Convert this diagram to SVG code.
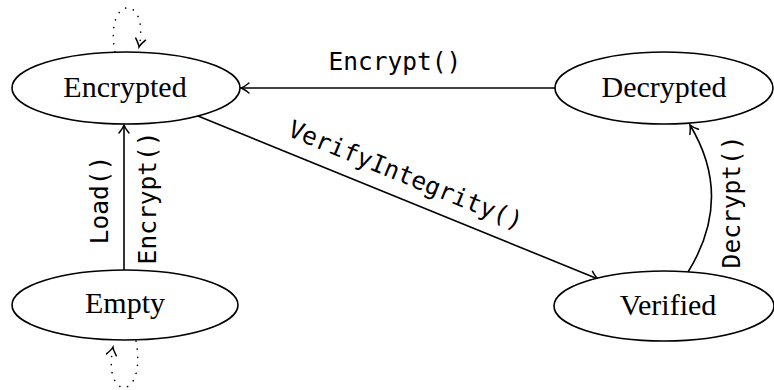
<svg xmlns="http://www.w3.org/2000/svg" width="774" height="390" viewBox="0 0 774 390">
<style>
.node ellipse{fill:#fff;stroke:#000;stroke-width:1.6}
.node text{font-family:"Liberation Serif","Times New Roman",serif;font-size:30px;text-anchor:middle;fill:#000}
.edge{fill:none;stroke:#000;stroke-width:1.6}
.loop{fill:none;stroke:#000;stroke-width:1.6;stroke-dasharray:0.1 8;stroke-linecap:round}
.lbl{font-family:"DejaVu Sans Mono","Liberation Mono",monospace;font-size:24.5px;text-anchor:middle;fill:#000}
</style>
<defs>
<marker id="arr" markerUnits="userSpaceOnUse" markerWidth="20" markerHeight="20" viewBox="-10 -10 20 20" refX="0" refY="0" orient="auto">
<path d="M-8,-5 Q-3,-1 0,0 Q-3,1 -8,5" fill="none" stroke="#000" stroke-width="1.5" stroke-linecap="round"/>
</marker>
</defs>
<g id="connectors">
<path class="loop" d="M115,52 C104,-6 150,-6 139,47" marker-end="url(#arr)"/>
<path class="loop" d="M136,341 C147,402 102,402 113,347" marker-end="url(#arr)"/>
<path class="edge" d="M555,88 L241,88" marker-end="url(#arr)"/>
<text class="lbl" x="395" y="70">Encrypt()</text>
<path class="edge" d="M124,270 L124,125" marker-end="url(#arr)"/>
<text class="lbl" transform="translate(108,200) rotate(-90)">Load()</text>
<text class="lbl" transform="translate(156,198) rotate(-90)">Encrypt()</text>
<path class="edge" d="M198,116 L598,279" marker-end="url(#arr)"/>
<text class="lbl" transform="translate(398,194) rotate(22.2)" y="-12">VerifyIntegrity()</text>
<path class="edge" d="M688,272 Q734,198 690,125" marker-end="url(#arr)"/>
<text class="lbl" transform="translate(740,202) rotate(-90)">Decrypt()</text>
</g>
<g id="encrypted" class="node"><ellipse cx="126" cy="88" rx="114" ry="36"/><text x="125" y="97">Encrypted</text></g>
<g id="decrypted" class="node"><ellipse cx="664" cy="88" rx="109" ry="36"/><text x="664" y="97">Decrypted</text></g>
<g id="empty" class="node"><ellipse cx="125" cy="305" rx="113" ry="35"/><text x="125" y="313">Empty</text></g>
<g id="verified" class="node"><ellipse cx="664" cy="306" rx="110" ry="35"/><text x="668" y="315">Verified</text></g>
</svg>
